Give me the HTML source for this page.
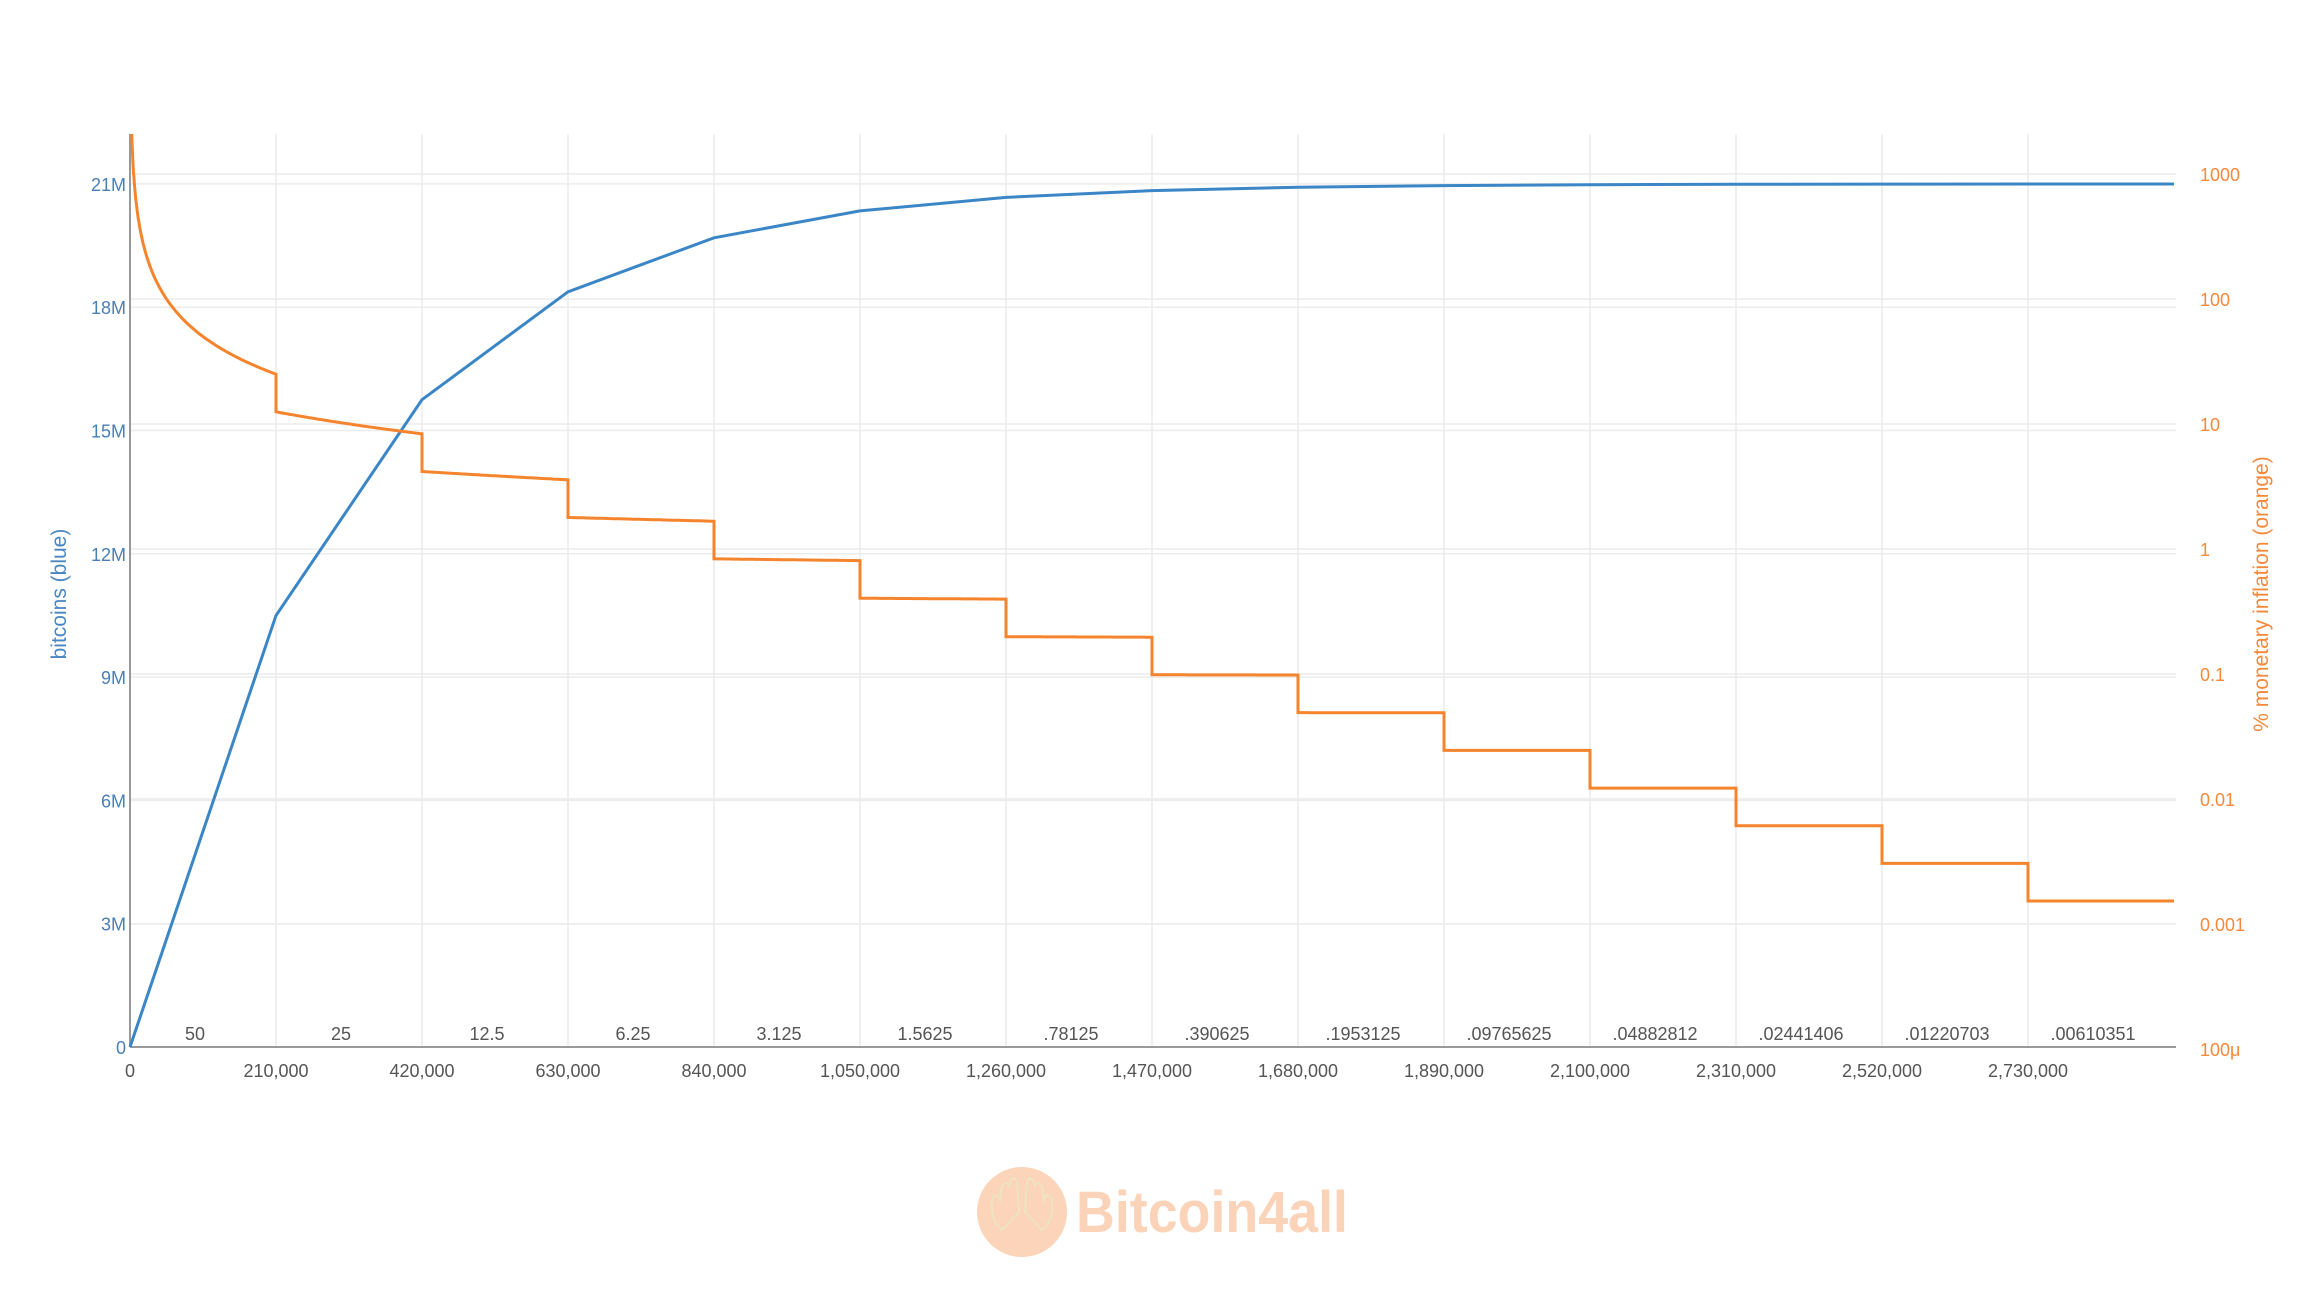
<!DOCTYPE html>
<html><head><meta charset="utf-8"><style>
html,body{margin:0;padding:0;background:#fff;}
svg{display:block;}
text{font-family:"Liberation Sans",sans-serif;}
</style></head><body>
<svg id="s" width="2304" height="1296" viewBox="0 0 2304 1296" xmlns="http://www.w3.org/2000/svg">
<g id="grid" stroke="#ececec" stroke-width="1.5" fill="none"></g>
<line x1="130" y1="134" x2="130" y2="1047" stroke="#999" stroke-width="2"/>
<line x1="130" y1="1047" x2="2176" y2="1047" stroke="#999" stroke-width="2"/>
<g id="labels"></g>
<path id="blue" fill="none" stroke="#3b86c6" stroke-width="3"/>
<path id="orange" fill="none" stroke="#f5842c" stroke-width="3"/>
<text x="66" y="594" transform="rotate(-90 66 594)" text-anchor="middle" font-size="21" fill="#4a86c0">bitcoins (blue)</text>
<text x="2268" y="594" transform="rotate(-90 2268 594)" text-anchor="middle" font-size="21" fill="#f5883a">% monetary inflation (orange)</text>
<circle cx="1022" cy="1212" r="45" fill="#fbd4b9"/>
<path d="M1002 1230 q-12 -10 -10 -30 q4 -10 8 0 l2 -14 q4 -6 7 0 l2 -6 q4 -4 6 2 l2 30 z M1042 1230 q12 -10 10 -30 q-4 -10 -8 0 l-2 -14 q-4 -6 -7 0 l-2 -6 q-4 -4 -6 2 l-2 30 z" fill="none" stroke="#eee3bf" stroke-width="2"/>
<text x="1076" y="1232" font-size="58" font-weight="bold" fill="#fad3b8" textLength="272" lengthAdjust="spacingAndGlyphs">Bitcoin4all</text>
</svg>
<script>
var NS="http://www.w3.org/2000/svg";
var X0=130,DX=146/210000;
function X(b){return X0+b*DX;}
function YL(v){return 1047-v/3e6*123.3;}
function YR(v){return 424-(Math.log10(v)-1)*125;}
var g=document.getElementById('grid'),lab=document.getElementById('labels');
function ln(x1,y1,x2,y2){var l=document.createElementNS(NS,'line');l.setAttribute('x1',x1);l.setAttribute('y1',y1);l.setAttribute('x2',x2);l.setAttribute('y2',y2);g.appendChild(l);}
function tx(x,y,s,anc,col,fs){var t=document.createElementNS(NS,'text');t.setAttribute('x',x);t.setAttribute('y',y);t.setAttribute('text-anchor',anc);t.setAttribute('fill',col);t.setAttribute('font-size',fs||18);t.textContent=s;lab.appendChild(t);}
for(var i=1;i<=13;i++){ln(X(i*210000),134,X(i*210000),1047);}
var lv=['0','3M','6M','9M','12M','15M','18M','21M'];
for(var i=0;i<8;i++){var y=YL(i*3e6);if(i>0)ln(130,y,2176,y);tx(126,y+7,lv[i],'end','#4a7fb5');}
var rv=['1000','100','10','1','0.1','0.01','0.001','100\u03bc'];
for(var i=0;i<8;i++){var y=YR(Math.pow(10,3-i));if(i<7)ln(130,y,2176,y);tx(2200,y+7,rv[i],'start','#f5883a');}
var xl=['0','210,000','420,000','630,000','840,000','1,050,000','1,260,000','1,470,000','1,680,000','1,890,000','2,100,000','2,310,000','2,520,000','2,730,000'];
for(var i=0;i<14;i++)tx(X(i*210000),1077,xl[i],'middle','#555');
var rl=['50','25','12.5','6.25','3.125','1.5625','.78125','.390625','.1953125','.09765625','.04882812','.02441406','.01220703','.00610351'];
for(var i=0;i<14;i++)tx(X(i*210000+105000)-8,1040,rl[i],'middle','#555');
var S=function(b){var s=0,r=50;while(b>0){var n=Math.min(b,210000);s+=n*r;b-=n;r/=2;}return s;};
var d='M'+X(0)+' '+YL(0);
for(var i=1;i<=14;i++){d+=' L'+X(i*210000).toFixed(1)+' '+YL(S(i*210000)).toFixed(1);}
document.getElementById('blue').setAttribute('d',d);
var od='';
for(var e=0;e<14;e++){var r=50/Math.pow(2,e);
 var start=e*210000, st=(e==0)?2400:start;
 for(var b=st;b<=start+210000;b+=(e==0&&b<30000?300:3000)){
  var v=r*52560*100/S(b);var y=Math.max(YR(v),134);
  od+=(od?' L':'M')+X(b).toFixed(1)+' '+y.toFixed(1);}
 if(e==13)break;
 var b2=start+210000;var v2=(r/2)*52560*100/S(b2);od+=' L'+X(b2).toFixed(1)+' '+YR(v2).toFixed(1);
}
document.getElementById('orange').setAttribute('d',od);
</script>
</body></html>
